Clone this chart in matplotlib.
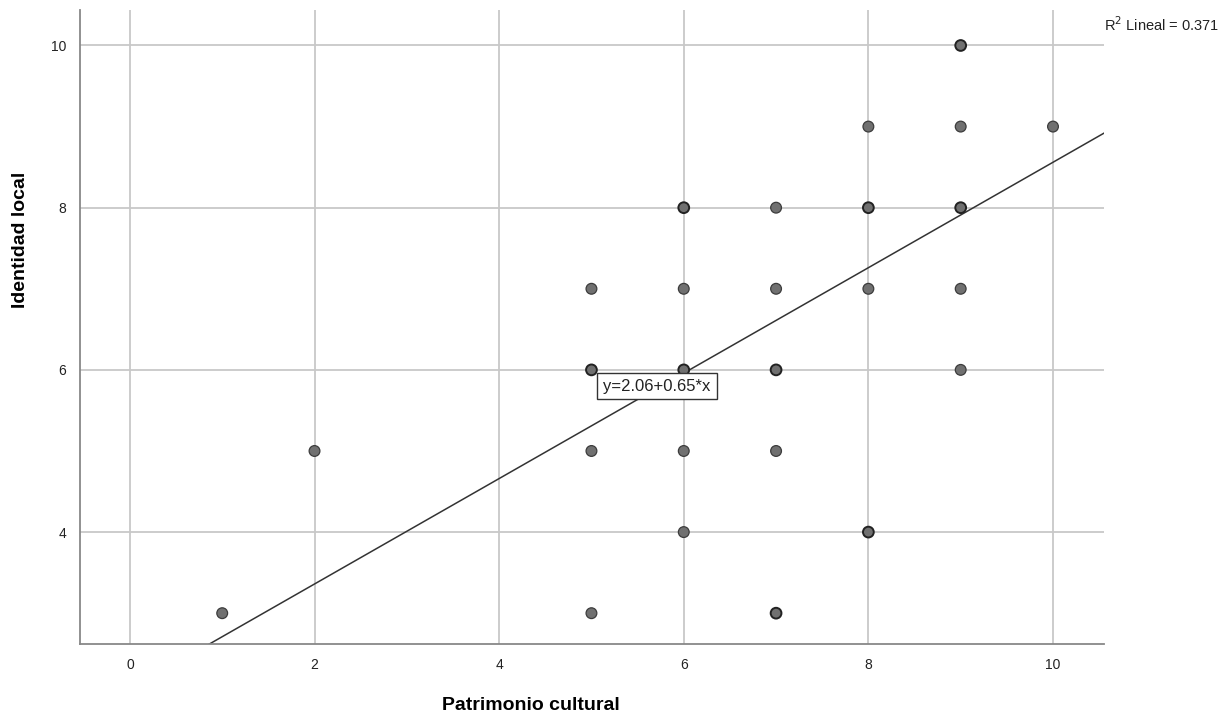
import numpy as np
import matplotlib.pyplot as plt

plt.rcParams['font.family'] = ['Liberation Sans', 'DejaVu Sans']

# Datos (Patrimonio cultural vs Identidad local)
patrimonio = [1, 2, 5, 5, 5, 5, 6, 6, 6, 6, 6, 7, 7, 7, 7, 7, 8, 8, 8, 8, 9, 9, 9, 9, 9, 10]
identidad = [3, 5, 7, 6, 5, 3, 8, 7, 6, 5, 4, 8, 7, 6, 5, 3, 9, 8, 7, 4, 10, 9, 8, 7, 6, 9]
# casos repetidos (puntos mas oscuros)
repetidos = [1, 1, 1, 2, 1, 1, 2, 1, 2, 1, 1, 1, 1, 2, 1, 2, 1, 2, 1, 2, 2, 1, 3, 1, 1, 1]

intercepto = 2.06
pendiente = 0.65
r2 = 0.371

fig = plt.figure(figsize=(12.26, 7.15), dpi=100)
ax = fig.add_axes([0.0653, 0.0993, 0.835, 0.887])

ax.set_xlim(-0.54, 10.55)
ax.set_ylim(2.62, 10.44)
ax.set_xticks([0, 2, 4, 6, 8, 10])
ax.set_yticks([4, 6, 8, 10])
ax.grid(True, color="#c8c8c8", linewidth=1.3)
ax.set_axisbelow(True)
ax.tick_params(length=0, labelsize=10, colors="#222222", pad=10)

for s in ["top", "right"]:
    ax.spines[s].set_visible(False)
for s in ["left", "bottom"]:
    ax.spines[s].set_color("#888888")
    ax.spines[s].set_linewidth(1.3)

x = np.array(patrimonio)
y = np.array(identidad)
n = np.array(repetidos)
edge = np.where(n > 1, "#222222", "#3c3c3c")
lw = np.where(n > 1, 1.4, 0.9)
ax.scatter(x, y, s=60, facecolor="#707070", edgecolor=edge, linewidths=lw, zorder=3)

xl = np.array(ax.get_xlim())
ax.plot(xl, intercepto + pendiente * xl, color="#333333", linewidth=1.1, zorder=2)

ax.text(5.71, 5.8, "y=2.06+0.65*x", fontsize=12, ha="center", va="center", color="#222222",
        bbox=dict(boxstyle="square,pad=0.35", facecolor="white", edgecolor="#333333", linewidth=1))

fig.text(0.9005, 0.953, "R$^2$ Lineal = 0.%d" % round(r2 * 1000), fontsize=10.5, ha="left", va="bottom",
         color="#222222")

ax.set_xlabel("Patrimonio cultural", fontsize=14, fontweight="bold")
ax.set_ylabel("Identidad local", fontsize=14, fontweight="bold")
ax.xaxis.set_label_coords(0.44, -0.084)
ax.yaxis.set_label_coords(-0.05, 0.637)

fig.savefig("out.png", dpi=100)
